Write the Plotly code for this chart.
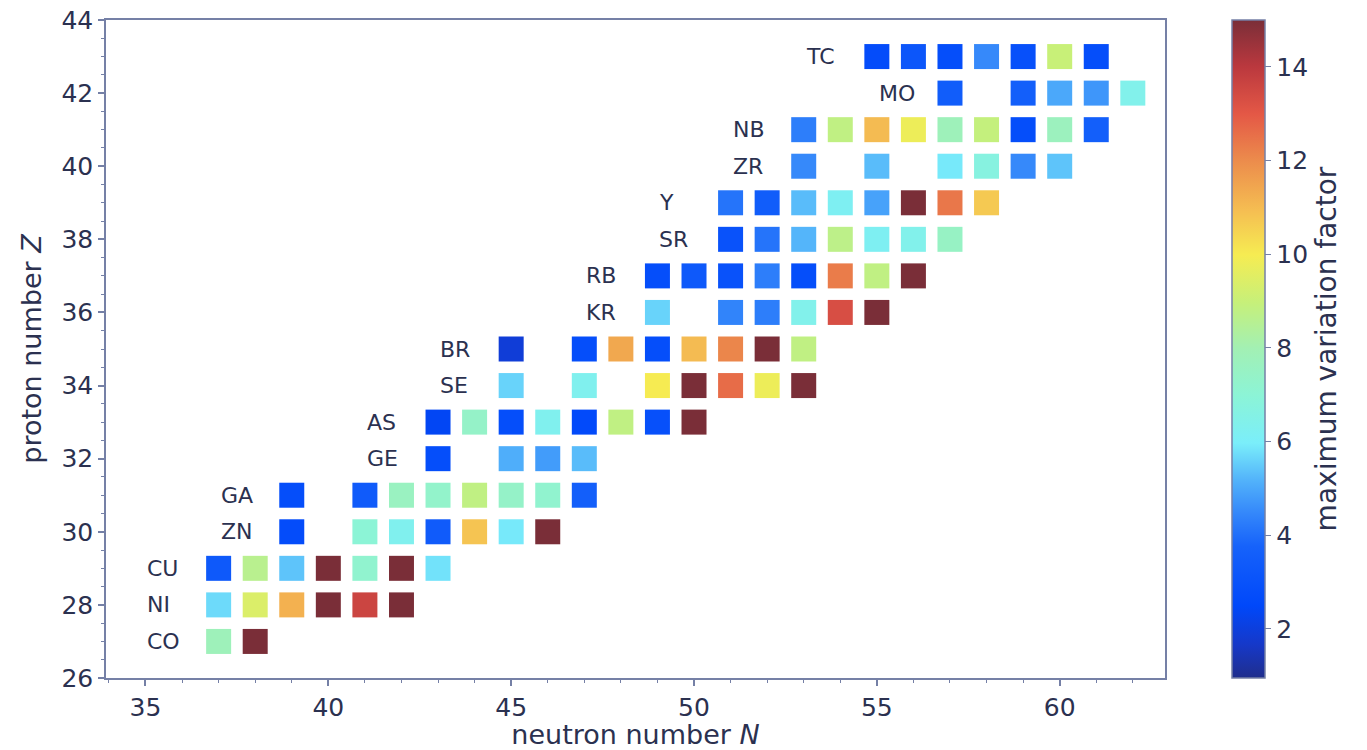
import plotly.graph_objects as go

# Neutron number N, proton number Z and maximum variation factor of each nuclide
neutron = [
    37, 38,
    37, 38, 39, 40, 41, 42,
    37, 38, 39, 40, 41, 42, 43,
    39, 41, 42, 43, 44, 45, 46,
    39, 41, 42, 43, 44, 45, 46, 47,
    43, 45, 46, 47,
    43, 44, 45, 46, 47, 48, 49, 50,
    45, 47, 49, 50, 51, 52, 53,
    45, 47, 48, 49, 50, 51, 52, 53,
    49, 51, 52, 53, 54, 55,
    49, 50, 51, 52, 53, 54, 55, 56,
    51, 52, 53, 54, 55, 56, 57,
    51, 52, 53, 54, 55, 56, 57, 58,
    53, 55, 57, 58, 59, 60,
    53, 54, 55, 56, 57, 58, 59, 60, 61,
    57, 59, 60, 61, 62,
    55, 56, 57, 58, 59, 60, 61,
]
proton = (
    [27] * 2 + [28] * 6 + [29] * 7 + [30] * 7 + [31] * 8 + [32] * 4
    + [33] * 8 + [34] * 7 + [35] * 8 + [36] * 6 + [37] * 8 + [38] * 7
    + [39] * 8 + [40] * 6 + [41] * 9 + [42] * 5 + [43] * 7
)
variation = [
    7.8, 15,
    5.7, 9.4, 11.2, 15, 13.6, 15,
    3.3, 8.6, 5.4, 15, 7.2, 15, 5.8,
    2.7, 7.0, 6.3, 3.4, 10.8, 5.9, 15,
    2.8, 3.4, 7.6, 7.3, 8.8, 7.4, 7.2, 3.6,
    2.8, 5.1, 4.8, 5.3,
    2.4, 7.4, 2.8, 6.3, 2.6, 8.8, 2.9, 15,
    5.6, 6.3, 10.0, 15, 12.6, 9.8, 15,
    1.9, 2.8, 11.4, 2.8, 11.0, 12.1, 15, 8.8,
    5.6, 4.4, 4.3, 6.4, 13.3, 15,
    2.8, 3.3, 3.0, 4.3, 2.8, 12.3, 8.8, 15,
    3.0, 4.1, 5.2, 8.7, 6.2, 6.4, 7.5,
    4.1, 3.5, 5.3, 6.2, 4.9, 15, 12.4, 10.7,
    4.5, 5.3, 5.9, 6.7, 4.5, 5.4,
    4.3, 8.8, 11.0, 9.8, 7.8, 8.9, 2.8, 7.7, 3.6,
    3.5, 3.6, 5.0, 4.7, 6.4,
    2.7, 3.2, 2.8, 4.5, 2.9, 9.0, 2.8,
]

# Element symbols and their proton numbers
elements = ["CO", "NI", "CU", "ZN", "GA", "GE", "AS", "SE", "BR",
            "KR", "RB", "SR", "Y", "ZR", "NB", "MO", "TC"]
element_z = list(range(27, 44))

colorbar_ticks = [2, 4, 6, 8, 10, 12, 14]

# Softened jet-like colour scale
jet_soft = [
    [0.00, "rgb(32,46,140)"],
    [0.05, "rgb(22,56,200)"],
    [0.11, "rgb(0,72,250)"],
    [0.20, "rgb(22,98,250)"],
    [0.25, "rgb(52,135,250)"],
    [0.30, "rgb(82,178,250)"],
    [0.357, "rgb(122,238,250)"],
    [0.43, "rgb(140,244,214)"],
    [0.50, "rgb(162,240,180)"],
    [0.57, "rgb(198,240,122)"],
    [0.643, "rgb(246,236,82)"],
    [0.71, "rgb(245,190,82)"],
    [0.786, "rgb(236,140,76)"],
    [0.857, "rgb(228,88,70)"],
    [0.93, "rgb(186,56,62)"],
    [1.00, "rgb(122,46,56)"],
]

text_color = "#2b3150"
spine_color = "#7580a6"
font_family = "DejaVu Sans"

fig = go.Figure(
    go.Scatter(
        x=neutron,
        y=proton,
        mode="markers",
        marker=dict(
            symbol="square",
            size=25,
            color=variation,
            colorscale=jet_soft,
            cmin=0.95,
            cmax=15,
            line=dict(width=0),
            colorbar=dict(
                title=dict(text="maximum variation factor", side="right",
                           font=dict(size=28, color=text_color, family=font_family)),
                tickvals=colorbar_ticks,
                ticks="outside",
                ticklen=6,
                tickcolor=spine_color,
                tickfont=dict(size=25, color=text_color, family=font_family),
                thickness=33,
                len=1,
                lenmode="fraction",
                y=0.5,
                yanchor="middle",
                x=1.0633,
                xanchor="left",
                xpad=0,
                ypad=0,
                outlinecolor=spine_color,
                outlinewidth=1.5,
            ),
        ),
        hoverinfo="x+y",
        showlegend=False,
    )
)

# Element labels to the left of each row
annotations = []
for sym, z in zip(elements, element_z):
    first_n = min(n for n, zz in zip(neutron, proton) if zz == z)
    annotations.append(dict(
        x=first_n - 2, y=z, xref="x", yref="y",
        text=sym, showarrow=False, xanchor="left", yanchor="middle",
        font=dict(size=22, color=text_color, family=font_family),
    ))

axis_common = dict(
    showline=True,
    linecolor=spine_color,
    linewidth=1.5,
    mirror=True,
    ticks="outside",
    ticklen=6,
    tickwidth=1.5,
    tickcolor=spine_color,
    showgrid=False,
    zeroline=False,
    tickfont=dict(size=25, color=text_color, family=font_family),
)

fig.update_layout(
    width=1367,
    height=750,
    margin=dict(l=106, r=202, t=20, b=72, autoexpand=False),
    paper_bgcolor="white",
    plot_bgcolor="white",
    annotations=annotations,
    xaxis=dict(
        **axis_common,
        range=[33.92, 62.88],
        tickvals=[35, 40, 45, 50, 55, 60],
        minor=dict(dtick=1, tick0=0, ticks="outside", ticklen=3,
                   tickcolor=spine_color, tickwidth=1),
        title=dict(text="neutron number <i>N</i>", standoff=2,
                   font=dict(size=27, color=text_color, family=font_family)),
    ),
    yaxis=dict(
        **axis_common,
        range=[26, 44],
        tickvals=list(range(26, 45, 2)),
        minor=dict(dtick=0.5, tick0=0, ticks="outside", ticklen=3,
                   tickcolor=spine_color, tickwidth=1),
        title=dict(text="proton number <i>Z</i>", standoff=12,
                   font=dict(size=27, color=text_color, family=font_family)),
    ),
)

fig.write_html("out.html")
